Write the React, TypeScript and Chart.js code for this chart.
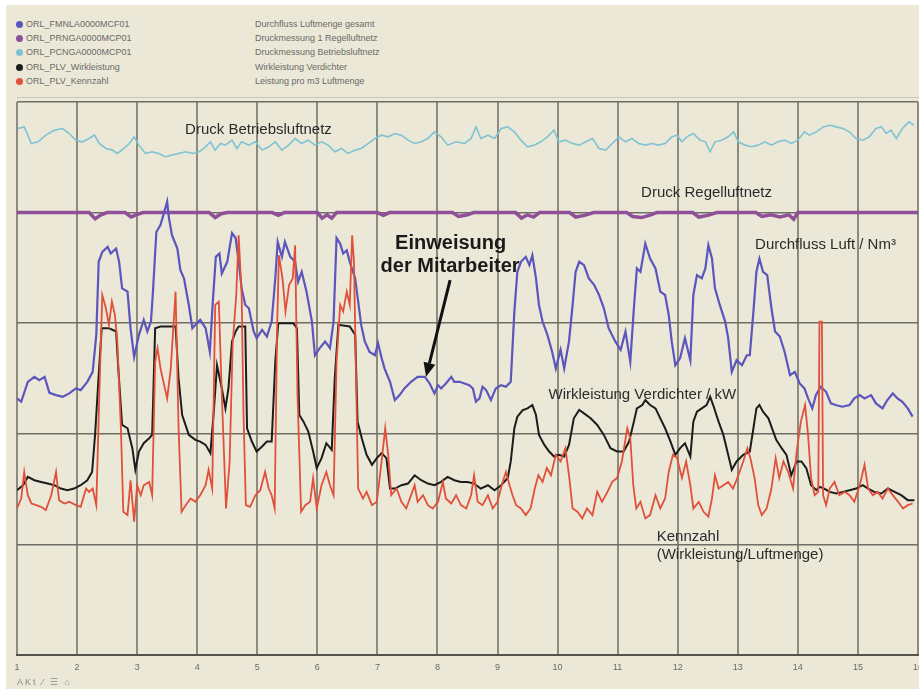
import React, { useEffect, useRef } from "react";
import { Chart, registerables } from "chart.js";

Chart.register(...registerables);

// ---------- data ----------
const xMin = 1;
const xMax = 16;

const legendCodes = [
  "ORL_FMNLA0000MCF01",
  "ORL_PRNGA0000MCP01",
  "ORL_PCNGA0000MCP01",
  "ORL_PLV_Wirkleistung",
  "ORL_PLV_Kennzahl",
];
const legendDescriptions = [
  "Durchfluss Luftmenge gesamt",
  "Druckmessung 1 Regelluftnetz",
  "Druckmessung Betriebsluftnetz",
  "Wirkleistung Verdichter",
  "Leistung pro m3 Luftmenge",
];

// Durchfluss Luft / Nm³ (blue)
const flowPoints: [number, number][] = [
  [1.00,46.4],[1.07,45.8],[1.18,49.4],[1.29,50.3],[1.37,49.7],[1.46,50.3],[1.54,47.4],[1.65,47.0],[1.76,46.7],[1.87,47.3],
  [1.98,48.2],[2.06,47.9],[2.17,49.4],[2.26,51.2],[2.32,57.9],[2.36,71.1],[2.42,72.9],[2.51,73.8],[2.56,72.6],[2.65,73.5],
  [2.70,71.1],[2.75,66.3],[2.84,65.7],[2.89,59.1],[2.95,53.9],[3.03,57.9],[3.11,60.6],[3.17,58.5],[3.23,60.3],[3.26,65.1],
  [3.32,76.5],[3.39,77.8],[3.47,80.8],[3.50,82.0],[3.53,79.0],[3.58,75.9],[3.67,73.5],[3.72,69.6],[3.78,68.1],[3.86,63.3],
  [3.92,59.1],[3.97,59.7],[4.05,60.6],[4.14,59.1],[4.21,54.8],[4.26,63.9],[4.31,72.0],[4.37,72.6],[4.41,69.0],[4.50,71.1],
  [4.58,76.3],[4.64,75.4],[4.69,71.1],[4.74,66.3],[4.80,63.3],[4.86,62.7],[4.94,58.5],[4.99,57.3],[5.08,58.8],[5.16,57.6],
  [5.24,60.3],[5.30,68.1],[5.34,74.7],[5.41,72.0],[5.46,74.7],[5.55,72.0],[5.63,71.1],[5.68,67.5],[5.74,69.3],[5.82,65.7],
  [5.91,60.3],[5.96,54.2],[6.04,55.5],[6.13,56.7],[6.21,55.5],[6.27,60.3],[6.32,75.4],[6.38,74.4],[6.43,72.6],[6.49,73.2],
  [6.54,71.1],[6.63,68.1],[6.68,63.9],[6.73,59.7],[6.79,56.7],[6.87,54.8],[6.96,54.2],[7.01,56.4],[7.07,53.7],[7.12,51.8],
  [7.21,49.4],[7.29,46.1],[7.37,47.0],[7.45,48.2],[7.56,49.4],[7.67,50.3],[7.79,50.3],[7.87,49.1],[7.95,47.3],[8.01,48.8],
  [8.06,48.2],[8.14,49.1],[8.23,50.3],[8.28,49.4],[8.37,49.4],[8.45,49.1],[8.53,48.8],[8.59,48.2],[8.64,45.8],[8.70,46.4],
  [8.75,48.5],[8.81,47.9],[8.89,46.1],[8.97,48.2],[9.06,48.8],[9.14,48.5],[9.22,49.4],[9.28,62.1],[9.33,69.3],[9.39,71.1],
  [9.47,72.0],[9.53,70.5],[9.58,72.3],[9.64,68.1],[9.69,63.3],[9.75,60.3],[9.83,57.9],[9.91,54.8],[9.97,51.8],[10.05,55.2],
  [10.11,51.8],[10.19,56.7],[10.25,63.3],[10.30,69.3],[10.36,71.1],[10.44,70.5],[10.52,68.1],[10.61,66.9],[10.69,65.1],[10.77,62.7],
  [10.85,59.1],[10.96,56.7],[11.05,55.2],[11.13,58.5],[11.21,53.0],[11.27,62.7],[11.32,69.9],[11.38,69.3],[11.46,74.4],[11.54,71.7],
  [11.63,69.9],[11.71,65.7],[11.79,65.1],[11.85,61.5],[11.90,56.7],[11.96,52.4],[12.04,53.7],[12.12,57.3],[12.21,53.3],[12.26,65.1],
  [12.32,68.7],[12.40,68.1],[12.46,69.9],[12.51,74.1],[12.57,71.7],[12.62,66.3],[12.70,63.3],[12.79,60.3],[12.84,57.3],[12.90,51.2],
  [12.98,53.3],[13.07,52.4],[13.15,54.2],[13.20,54.2],[13.26,62.1],[13.31,69.3],[13.36,71.7],[13.42,69.3],[13.49,68.7],[13.56,62.7],
  [13.62,58.5],[13.70,57.6],[13.78,54.8],[13.87,50.6],[13.95,51.2],[14.03,49.1],[14.11,48.2],[14.17,46.4],[14.24,44.6],[14.30,47.0],
  [14.38,48.5],[14.47,47.6],[14.55,45.5],[14.63,45.2],[14.74,44.9],[14.86,45.2],[14.94,46.4],[15.03,47.0],[15.11,46.4],[15.22,47.0],
  [15.30,45.5],[15.41,44.6],[15.49,46.1],[15.58,47.3],[15.66,46.4],[15.74,45.8],[15.83,44.6],[15.91,43.1],
];

// Wirkleistung Verdichter / kW (black)
const powerPoints: [number, number][] = [
  [1.00,29.8],[1.10,30.7],[1.18,32.2],[1.29,31.6],[1.40,31.3],[1.51,31.0],[1.62,30.7],[1.73,30.1],[1.84,29.8],[1.95,30.1],
  [2.06,30.7],[2.17,31.6],[2.25,33.1],[2.30,39.8],[2.36,50.6],[2.41,59.1],[2.53,59.1],[2.65,58.5],[2.69,51.2],[2.75,41.6],
  [2.84,41.0],[2.92,37.4],[2.97,33.5],[3.03,36.8],[3.11,38.3],[3.20,39.2],[3.25,39.8],[3.30,59.1],[3.39,59.4],[3.64,59.4],
  [3.69,50.0],[3.75,43.4],[3.86,39.8],[3.97,38.9],[4.05,38.6],[4.14,38.0],[4.22,36.5],[4.28,44.6],[4.33,52.4],[4.41,48.2],
  [4.47,44.6],[4.52,48.2],[4.58,56.7],[4.64,58.5],[4.69,59.4],[4.80,59.4],[4.83,41.0],[4.91,38.6],[4.99,36.8],[5.08,37.7],
  [5.16,38.6],[5.24,38.6],[5.30,53.0],[5.35,60.0],[5.60,60.0],[5.66,59.1],[5.70,43.4],[5.77,42.2],[5.85,40.4],[5.93,36.8],
  [5.99,33.8],[6.07,35.6],[6.15,38.3],[6.24,37.1],[6.29,50.0],[6.35,59.7],[6.54,59.4],[6.63,57.9],[6.67,42.2],[6.74,39.2],
  [6.82,36.2],[6.91,34.4],[6.99,35.6],[7.07,36.5],[7.15,35.6],[7.21,30.1],[7.29,30.1],[7.40,30.7],[7.51,31.0],[7.62,32.5],
  [7.73,31.6],[7.84,31.0],[7.95,30.7],[8.06,31.3],[8.17,32.2],[8.28,31.6],[8.39,31.3],[8.50,31.3],[8.61,31.0],[8.72,30.1],
  [8.84,30.7],[8.95,29.8],[9.06,30.7],[9.17,32.0],[9.22,35.0],[9.28,41.0],[9.33,43.1],[9.42,44.3],[9.50,44.6],[9.58,45.2],
  [9.64,43.4],[9.69,39.8],[9.78,38.0],[9.86,36.8],[9.94,35.9],[10.02,36.2],[10.11,35.9],[10.19,38.0],[10.27,42.8],[10.36,44.3],
  [10.44,43.7],[10.55,42.8],[10.66,41.6],[10.77,39.8],[10.88,37.4],[10.99,36.8],[11.10,36.8],[11.19,38.6],[11.27,42.2],[11.32,44.6],
  [11.41,45.2],[11.46,46.1],[11.54,45.2],[11.63,44.6],[11.71,42.8],[11.79,41.0],[11.88,38.6],[11.96,36.2],[12.04,37.4],[12.12,38.3],
  [12.21,35.9],[12.26,42.2],[12.32,44.0],[12.40,44.6],[12.48,45.2],[12.54,46.7],[12.59,45.2],[12.68,42.2],[12.76,39.8],[12.84,36.2],
  [12.90,33.5],[12.98,35.0],[13.09,36.2],[13.20,36.8],[13.26,41.0],[13.31,44.6],[13.36,45.2],[13.42,44.0],[13.51,42.8],[13.59,40.4],
  [13.64,38.9],[13.73,37.4],[13.81,36.2],[13.89,32.5],[13.98,35.0],[14.06,35.0],[14.14,33.8],[14.22,30.7],[14.31,29.8],[14.36,30.4],
  [14.44,30.1],[14.53,29.5],[14.64,29.2],[14.75,29.5],[14.86,29.8],[14.97,30.1],[15.08,30.7],[15.17,30.1],[15.27,29.5],[15.39,29.2],
  [15.50,30.1],[15.61,29.5],[15.72,28.9],[15.83,28.0],[15.94,28.0],
];

// Kennzahl (Wirkleistung/Luftmenge) (red)
const ratioPoints: [number, number][] = [
  [1.00,26.5],[1.07,28.3],[1.12,33.1],[1.18,28.9],[1.24,27.4],[1.32,27.1],[1.40,26.8],[1.48,26.2],[1.57,28.9],[1.65,33.1],
  [1.70,28.0],[1.79,27.4],[1.87,27.7],[1.98,27.1],[2.06,26.8],[2.15,30.1],[2.20,29.5],[2.26,30.1],[2.32,27.1],[2.37,47.0],
  [2.42,65.1],[2.48,62.7],[2.53,59.7],[2.58,63.9],[2.63,61.5],[2.67,56.7],[2.73,41.0],[2.77,25.9],[2.84,25.3],[2.89,31.6],
  [2.95,24.1],[3.00,30.7],[3.06,28.9],[3.11,30.7],[3.20,31.3],[3.25,28.9],[3.30,53.0],[3.34,55.5],[3.39,51.8],[3.45,48.8],
  [3.50,46.4],[3.56,51.8],[3.64,65.7],[3.69,41.0],[3.74,25.9],[3.81,27.1],[3.89,28.3],[3.97,27.7],[4.05,28.9],[4.14,30.7],
  [4.19,33.5],[4.25,30.1],[4.30,63.3],[4.36,63.9],[4.41,47.0],[4.48,26.5],[4.54,35.0],[4.59,56.1],[4.65,65.1],[4.69,75.9],
  [4.74,65.1],[4.77,44.0],[4.81,27.1],[4.88,26.8],[4.97,28.9],[5.05,29.8],[5.13,33.1],[5.19,30.1],[5.24,28.9],[5.29,26.5],
  [5.33,59.1],[5.36,72.3],[5.42,68.1],[5.47,62.1],[5.53,66.9],[5.59,68.1],[5.63,74.1],[5.67,47.0],[5.73,25.9],[5.80,27.1],
  [5.88,27.7],[5.93,32.0],[5.99,26.5],[6.07,30.7],[6.15,33.1],[6.21,30.7],[6.27,28.9],[6.32,53.0],[6.38,63.3],[6.43,62.1],
  [6.49,65.7],[6.54,63.3],[6.58,75.9],[6.61,71.1],[6.65,47.0],[6.68,30.1],[6.76,28.3],[6.82,29.5],[6.91,27.1],[6.99,27.7],
  [7.07,35.0],[7.13,41.0],[7.18,36.2],[7.23,28.9],[7.32,30.1],[7.40,27.7],[7.48,26.5],[7.56,28.9],[7.62,30.7],[7.67,27.7],
  [7.76,28.9],[7.84,27.1],[7.92,26.5],[8.01,27.7],[8.09,31.3],[8.14,28.3],[8.23,27.4],[8.31,28.9],[8.39,27.1],[8.48,26.5],
  [8.56,28.9],[8.61,32.5],[8.67,27.7],[8.75,27.1],[8.84,28.9],[8.92,26.5],[9.00,27.7],[9.07,30.7],[9.14,33.1],[9.20,30.7],
  [9.25,28.9],[9.31,27.1],[9.39,26.5],[9.47,25.3],[9.55,26.5],[9.62,30.1],[9.68,32.5],[9.75,31.3],[9.82,33.8],[9.89,32.5],
  [9.97,36.2],[10.05,35.0],[10.13,37.4],[10.19,32.5],[10.25,26.5],[10.33,25.9],[10.41,24.7],[10.49,26.5],[10.58,25.3],[10.66,29.5],
  [10.74,27.7],[10.83,29.5],[10.91,31.3],[10.99,32.0],[11.07,35.0],[11.16,41.0],[11.21,39.2],[11.26,30.7],[11.31,26.5],[11.38,27.7],
  [11.46,24.7],[11.54,25.3],[11.63,28.9],[11.71,26.5],[11.79,28.3],[11.85,33.1],[11.92,36.2],[11.99,35.6],[12.07,32.0],[12.14,35.0],
  [12.21,30.7],[12.26,26.5],[12.35,27.7],[12.43,25.9],[12.51,25.0],[12.57,28.3],[12.62,32.5],[12.68,30.1],[12.76,30.7],[12.84,31.3],
  [12.92,30.1],[13.01,32.5],[13.09,35.0],[13.16,37.4],[13.21,35.6],[13.28,32.0],[13.34,27.1],[13.40,25.3],[13.48,26.5],[13.56,30.1],
  [13.63,35.6],[13.69,32.0],[13.76,35.0],[13.84,33.1],[13.92,30.1],[13.98,36.8],[14.05,42.2],[14.12,45.2],[14.17,39.8],[14.22,32.0],
  [14.28,28.9],[14.34,29.5],[14.36,60.3],[14.40,60.3],[14.42,28.9],[14.47,27.1],[14.53,30.1],[14.61,31.3],[14.69,28.9],[14.78,29.5],
  [14.86,28.9],[14.94,27.7],[15.03,30.7],[15.11,34.4],[15.17,30.1],[15.25,28.9],[15.33,29.5],[15.41,28.3],[15.50,30.1],[15.58,28.9],
  [15.67,27.7],[15.75,26.5],[15.83,27.1],[15.91,27.4],
];

// Druck Regelluftnetz (purple)
const controlPressurePoints: [number, number][] = [
  [1.0,80],[2.2,80],[2.3,78.9],[2.4,79.6],[2.5,80],[2.8,80],[2.9,79.2],[2.98,79.6],[3.1,80],[4.2,80],[4.3,79.1],[4.4,79.8],
  [4.5,80],[5.25,80],[5.35,79.5],[5.45,80],[6.0,80],[6.08,79.0],[6.16,79.6],[6.24,79.0],[6.32,80],[7.0,80],[7.1,79.5],[7.2,80],
  [8.25,80],[8.35,79.3],[8.5,79.6],[8.6,80],[9.3,80],[9.4,79.0],[9.5,79.6],[9.6,79.2],[9.7,80],[10.2,80],[10.3,79.2],[10.45,79.5],
  [10.6,80],[11.15,80],[11.25,79.3],[11.4,79.1],[11.55,79.6],[11.65,80],[12.25,80],[12.35,79.2],[12.5,79.5],[12.65,80],[13.3,80],
  [13.4,79.3],[13.55,79.6],[13.7,79.2],[13.85,79.6],[13.93,78.8],[14.0,80],[16.0,80],
];

// Druck Betriebsluftnetz (light blue)
const plantPressurePoints: [number, number][] = [
  [1.01,95.2],[1.12,95.5],[1.24,92.5],[1.35,92.8],[1.48,94.0],[1.62,94.9],[1.76,95.2],[1.87,94.3],[1.98,93.1],[2.09,92.8],
  [2.20,93.4],[2.29,94.0],[2.37,92.5],[2.48,91.6],[2.59,91.3],[2.67,90.7],[2.78,91.6],[2.87,92.5],[2.95,93.7],[3.03,92.2],
  [3.14,90.7],[3.25,91.0],[3.36,90.7],[3.47,90.1],[3.58,90.4],[3.69,90.7],[3.81,91.0],[3.92,90.7],[4.03,91.0],[4.14,91.9],
  [4.22,92.8],[4.30,91.3],[4.39,92.5],[4.47,92.2],[4.58,93.1],[4.66,91.6],[4.74,92.8],[4.86,92.2],[4.97,92.8],[5.08,91.3],
  [5.19,91.9],[5.30,92.8],[5.41,91.3],[5.52,92.2],[5.63,93.4],[5.74,92.5],[5.85,93.1],[5.96,92.2],[6.07,92.8],[6.18,92.2],
  [6.29,91.0],[6.40,91.6],[6.51,90.7],[6.63,91.3],[6.73,91.6],[6.85,92.5],[6.96,93.4],[7.07,94.0],[7.18,93.7],[7.29,94.3],
  [7.40,94.0],[7.51,93.1],[7.62,92.5],[7.73,92.8],[7.84,93.4],[7.95,94.6],[8.06,93.7],[8.17,92.2],[8.31,92.8],[8.45,92.5],
  [8.56,93.4],[8.64,95.5],[8.72,93.4],[8.84,94.0],[8.95,93.4],[9.06,95.2],[9.17,95.5],[9.28,94.6],[9.39,93.1],[9.50,91.9],
  [9.61,92.2],[9.72,92.8],[9.83,93.7],[9.94,94.9],[10.02,92.8],[10.13,93.1],[10.25,92.5],[10.36,92.2],[10.47,92.8],[10.58,93.4],
  [10.69,91.6],[10.80,91.3],[10.91,92.5],[11.02,93.7],[11.13,92.8],[11.24,93.4],[11.35,92.5],[11.46,92.2],[11.57,92.5],[11.68,92.2],
  [11.79,92.5],[11.90,93.7],[11.99,94.0],[12.07,92.8],[12.15,93.7],[12.26,94.3],[12.37,93.1],[12.46,92.8],[12.54,91.0],[12.62,92.8],
  [12.73,93.1],[12.84,93.7],[12.93,94.6],[13.01,92.8],[13.12,92.2],[13.23,91.9],[13.34,92.2],[13.45,92.8],[13.56,92.2],[13.67,92.8],
  [13.78,93.1],[13.89,92.5],[14.00,93.1],[14.11,94.6],[14.19,94.0],[14.31,94.6],[14.42,95.5],[14.53,95.8],[14.64,95.5],[14.75,95.2],
  [14.86,94.6],[14.97,93.4],[15.08,93.1],[15.19,93.7],[15.30,95.2],[15.39,95.5],[15.47,94.3],[15.55,94.9],[15.64,93.4],[15.74,95.2],
  [15.85,96.4],[15.93,95.8],
];

// Annotations placed at data coordinates
const annotationTexts = [
  "Druck Betriebsluftnetz",
  "Druck Regelluftnetz",
  "Durchfluss Luft / Nm³",
  "Einweisung",
  "der Mitarbeiter",
  "Wirkleistung Verdichter / kW",
  "Kennzahl",
  "(Wirkleistung/Luftmenge)",
];
const annotationX = [5.02, 12.48, 14.46, 8.22, 8.21, 11.41, 11.65, 11.65];
const annotationY = [94.9, 83.5, 74.1, 74.5, 70.2, 47.0, 21.3, 18.1];
const arrowFrom: [number, number] = [8.21, 67.8];
const arrowTo: [number, number] = [7.81, 50.3];

// ---------- styles ----------
const seriesColors = ["#5b55bd", "#8f4f99", "#7fc3d3", "#1c1c1c", "#e0503a"];
const BEIGE = "#ebe8d8";
const SANS = '"Liberation Sans", Arial, sans-serif';

const annotationPlugin = {
  id: "textAnnotations",
  afterDatasetsDraw(chart: any) {
    const { ctx, scales } = chart;
    const xs = scales.x;
    const ys = scales.y;
    ctx.save();
    annotationTexts.forEach((t, i) => {
      const big = i === 3 || i === 4;
      const left = i === 6 || i === 7;
      ctx.font = big ? `bold 20px ${SANS}` : `15px ${SANS}`;
      ctx.fillStyle = big ? "#1a1a1a" : "#2b2b2b";
      ctx.textAlign = left ? "left" : "center";
      ctx.textBaseline = "middle";
      ctx.fillText(t, xs.getPixelForValue(annotationX[i]), ys.getPixelForValue(annotationY[i]));
    });
    // arrow
    const x1 = xs.getPixelForValue(arrowFrom[0]);
    const y1 = ys.getPixelForValue(arrowFrom[1]);
    const x2 = xs.getPixelForValue(arrowTo[0]);
    const y2 = ys.getPixelForValue(arrowTo[1]);
    const ang = Math.atan2(y2 - y1, x2 - x1);
    const head = 14;
    const hx = x2 - head * Math.cos(ang);
    const hy = y2 - head * Math.sin(ang);
    ctx.strokeStyle = "#111";
    ctx.lineWidth = 3;
    ctx.beginPath();
    ctx.moveTo(x1, y1);
    ctx.lineTo(hx, hy);
    ctx.stroke();
    ctx.fillStyle = "#111";
    ctx.beginPath();
    ctx.moveTo(x2, y2);
    ctx.lineTo(hx + 6 * Math.sin(ang), hy - 6 * Math.cos(ang));
    ctx.lineTo(hx - 6 * Math.sin(ang), hy + 6 * Math.cos(ang));
    ctx.closePath();
    ctx.fill();
    ctx.restore();
  },
};

const toXY = (pts: [number, number][]) => pts.map(([x, y]) => ({ x, y }));

export default function App() {
  const canvasRef = useRef<HTMLCanvasElement | null>(null);

  useEffect(() => {
    const canvas = canvasRef.current;
    if (!canvas) return;
    const line = (data: [number, number][], color: string, width: number, order: number) => ({
      data: toXY(data),
      borderColor: color,
      backgroundColor: color,
      borderWidth: width,
      pointRadius: 0,
      tension: 0,
      fill: false,
      order,
    });
    const chart = new Chart(canvas, {
      type: "line",
      data: {
        datasets: [
          line(plantPressurePoints, seriesColors[2], 1.6, 4),
          line(controlPressurePoints, seriesColors[1], 3.5, 3),
          line(flowPoints, seriesColors[0], 2.2, 2),
          line(powerPoints, seriesColors[3], 2, 1),
          line(ratioPoints, seriesColors[4], 1.8, 0),
        ] as any,
      },
      options: {
        animation: false,
        responsive: false,
        maintainAspectRatio: false,
        devicePixelRatio: 1,
        layout: { padding: { left: 17, top: 102, right: 8, bottom: 0 } },
        plugins: { legend: { display: false }, tooltip: { enabled: false } },
        scales: {
          x: {
            type: "linear",
            min: xMin,
            max: xMax,
            afterFit: (s: any) => {
              s.height = 34;
            },
            ticks: {
              stepSize: 1,
              color: "#6d6b63",
              font: { size: 9, family: SANS },
              padding: 7,
              maxRotation: 0,
              autoSkip: false,
            },
            grid: { color: "#8d8a7e", lineWidth: 2, drawTicks: false },
            border: { display: true, color: "#55534c", width: 2 },
          },
          y: {
            type: "linear",
            min: 0,
            max: 100,
            afterFit: (s: any) => {
              s.width = 0;
            },
            ticks: { stepSize: 20, display: false },
            grid: { color: "#6f6d66", lineWidth: 1.5, drawTicks: false },
            border: { display: false },
          },
        },
      } as any,
      plugins: [annotationPlugin],
    });
    return () => chart.destroy();
  }, []);

  return (
    <div
      style={{
        position: "fixed",
        left: 0,
        top: 0,
        width: 919,
        height: 689,
        overflow: "hidden",
        background: "#ffffff",
        fontFamily: SANS,
      }}
    >
      <div style={{ position: "absolute", left: 6, top: 5, right: 0, bottom: 0, background: BEIGE }} />
      {/* legend */}
      {legendCodes.map((code, i) => (
        <React.Fragment key={code}>
          <div
            style={{
              position: "absolute",
              left: 16,
              top: 21 + i * 14.2,
              width: 7,
              height: 7,
              borderRadius: "50%",
              background: seriesColors[i === 0 ? 0 : i === 1 ? 1 : i === 2 ? 2 : i === 3 ? 3 : 4],
            }}
          />
          <div
            style={{
              position: "absolute",
              left: 26,
              top: 19 + i * 14.2,
              fontSize: 9,
              lineHeight: "11px",
              color: "#6a6a66",
              whiteSpace: "nowrap",
            }}
          >
            {code}
          </div>
          <div
            style={{
              position: "absolute",
              left: 255,
              top: 19 + i * 14.2,
              fontSize: 9,
              lineHeight: "11px",
              color: "#6a6a66",
              whiteSpace: "nowrap",
            }}
          >
            {legendDescriptions[i]}
          </div>
        </React.Fragment>
      ))}
      <div style={{ position: "absolute", left: 17, top: 97, right: 0, height: 1, background: "#cbc8ba" }} />
      <canvas
        ref={canvasRef}
        width={930}
        height={689}
        style={{ position: "absolute", left: 0, top: 0, width: 930, height: 689 }}
      />
      <div
        style={{
          position: "absolute",
          left: 17,
          top: 677,
          fontSize: 9,
          color: "#8a8880",
          whiteSpace: "nowrap",
          letterSpacing: 2,
        }}
      >
        AKt ⁄ ☰ ⌂
      </div>
    </div>
  );
}
